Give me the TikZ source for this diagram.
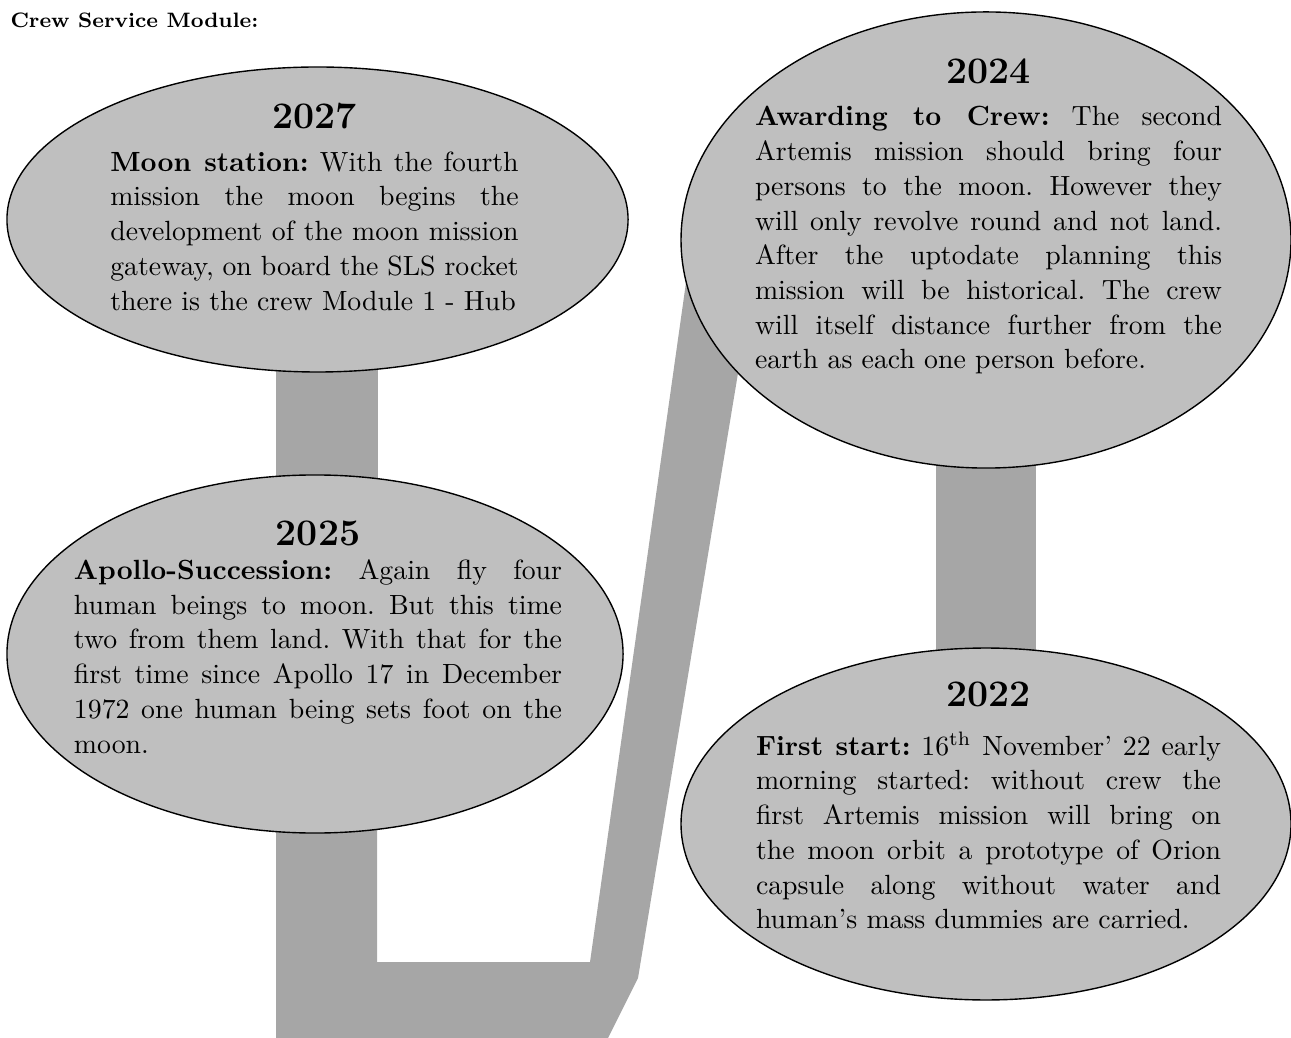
\documentclass[tikz,border=0pt]{standalone}
\usetikzlibrary{shapes.geometric,backgrounds}

\definecolor{bubblegray}{gray}{0.75}
\definecolor{bandgray}{gray}{0.65}

\begin{document}
\frenchspacing
\begin{tikzpicture}[
    x=0.36pt, y=-0.36pt,
    every node/.style={inner sep=0pt},
    bubble/.style={
        ellipse, draw=black, fill=bubblegray,
        line width=0.5pt
    },
    year/.style={font=\fontsize{13.5}{15}\selectfont\bfseries},
    story/.style={
        text width=#1, align=justify, anchor=north,
        font=\fontsize{10}{12.5}\selectfont
    },
    link/.style={draw=bandgray, line width=36.4pt},
    ttl/.style={font=\fontsize{7.5}{9}\selectfont\bfseries, anchor=west}
]
\useasboundingbox (0,0) rectangle (1291,1038);

% ----------------------------------------------------------
% Titel
% ----------------------------------------------------------
\node[ttl] (title) at (10,20) {Crew Service Module:};

% ----------------------------------------------------------
% Ellipsen, eine je Etappe
% ----------------------------------------------------------
\node[bubble, minimum width=223.6pt, minimum height=109.8pt] (e2027) at (317.5,219.5) {};
\node[bubble, minimum width=221.8pt, minimum height=128.9pt] (e2025) at (315,654) {};
\node[bubble, minimum width=219.6pt, minimum height=164.2pt] (e2024) at (986,240) {};
\node[bubble, minimum width=219.6pt, minimum height=126.7pt] (e2022) at (986,824) {};

% ----------------------------------------------------------
% Graues Band hinter den Ellipsen
% ----------------------------------------------------------
\begin{pgfonlayer}{background}
\coordinate (rail) at (327,0);
\draw[link] (rail |- e2027.center) -- (rail |- e2025.center);
\draw[link, line width=36pt] (e2024.center) -- (e2022.center);
\fill[bandgray] (276,700) -- (276,1038) -- (608,1038) -- (638,978)
    -- (760,240) -- (692,240) -- (590,962) -- (377,962) -- (377,700) -- cycle;
\end{pgfonlayer}

% ----------------------------------------------------------
% Jahreszahlen und Texte
% ----------------------------------------------------------
\node[year] (y2027) at (314.5,116) {2027};
\node[story=147pt] (t2027) at (314.5,151)
    {\textbf{Moon station:} With the fourth\linebreak
     mission the moon begins the\linebreak
     development of the moon mission\linebreak
     gateway, on board the SLS rocket\linebreak
     there is the crew Module 1 - Hub};

\node[year] (y2025) at (318,533) {2025};
\node[story=175.7pt] (t2025) at (318,559)
    {\textbf{Apollo-Succession:} Again fly four\linebreak
     human beings to moon. But this time\linebreak
     two from them land. With that for the\linebreak
     first time since Apollo 17 in December\linebreak
     1972 one human being sets foot on the\linebreak
     moon.};

\node[year] (y2024) at (988.5,71) {2024};
\node[story=168.1pt] (t2024) at (988.5,106)
    {\textbf{Awarding to Crew:} The second\linebreak
     Artemis mission should bring four\linebreak
     persons to the moon. However they\linebreak
     will only revolve round and not land.\linebreak
     After the uptodate planning this\linebreak
     mission will be historical. The crew\linebreak
     will itself distance further from the\linebreak
     earth as each one person before.};

\node[year] (y2022) at (988.5,694) {2022};
\node[story=167.4pt] (t2022) at (988.5,731)
    {\textbf{First start:} 16\textsuperscript{th} November' 22 early\linebreak
     morning started: without crew the\linebreak
     first Artemis mission will bring on\linebreak
     the moon orbit a prototype of Orion\linebreak
     capsule along without water and\linebreak
     human's mass dummies are carried.};

\end{tikzpicture}
\end{document}
